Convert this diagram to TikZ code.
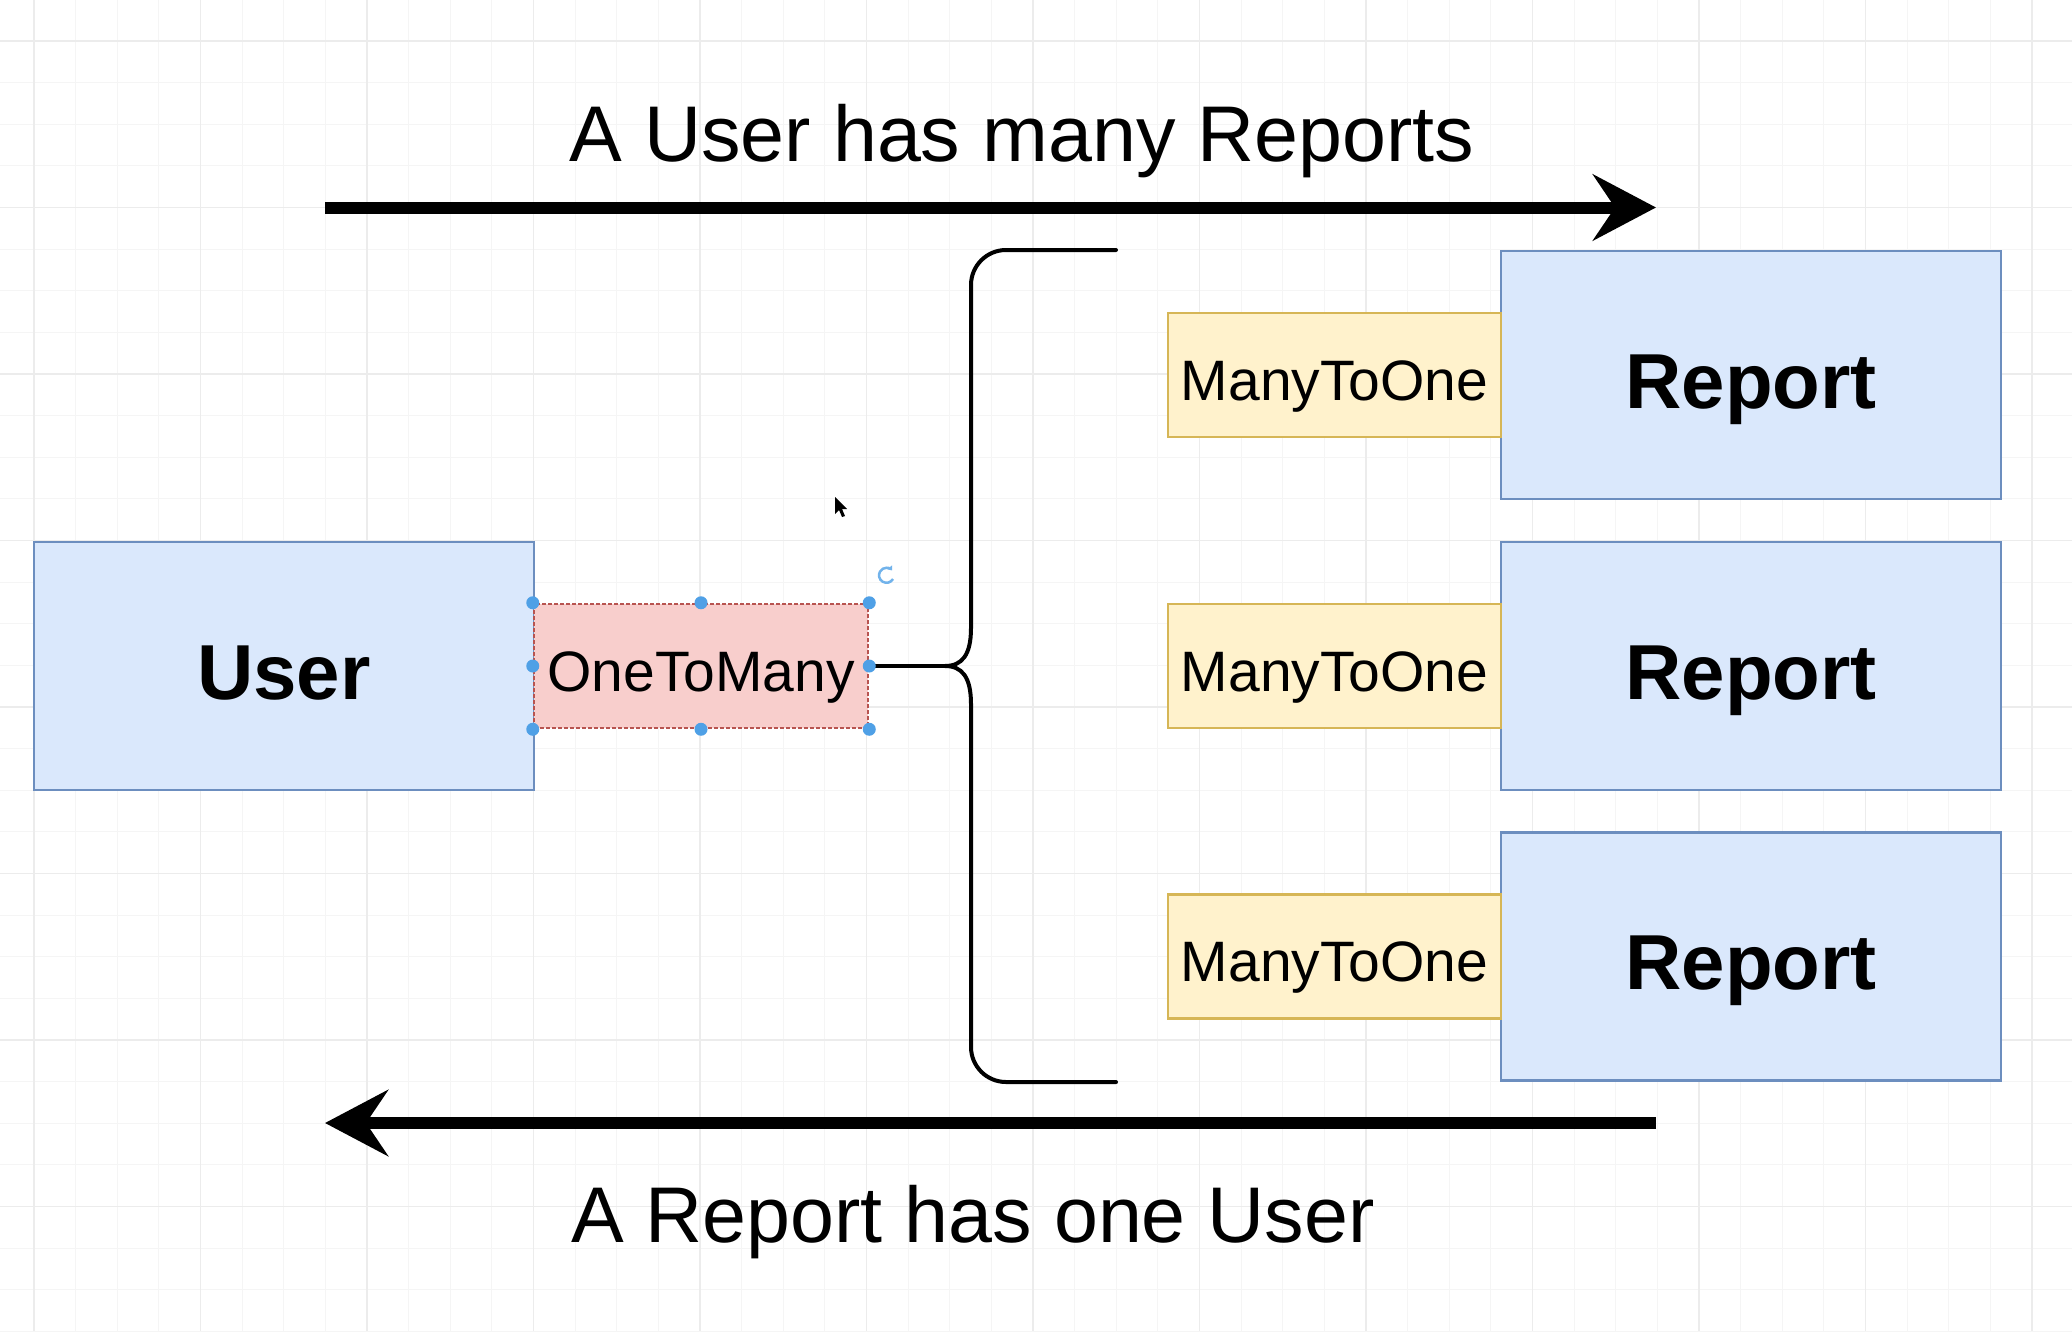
\documentclass[tikz,border=0pt]{standalone}
\usepackage{fontspec}
\setmainfont{Liberation Sans}
\usetikzlibrary{arrows.meta}

\definecolor{entityfill}{HTML}{DAE8FC}
\definecolor{entityline}{HTML}{6C8EBF}
\definecolor{relfill}{HTML}{FFF2CC}
\definecolor{relline}{HTML}{D6B656}
\definecolor{selfill}{HTML}{F8CECC}
\definecolor{selline}{HTML}{B85450}
\definecolor{handleblue}{HTML}{4FA0E6}
\definecolor{gridminor}{HTML}{F5F5F5}
\definecolor{gridmajor}{HTML}{ECECEC}

\tikzset{
  entity/.style={draw=entityline, fill=entityfill, line width=2.5pt,
    minimum width=500pt, minimum height=248pt, inner sep=0pt,
    font=\fontsize{78}{90}\selectfont\bfseries, text height=66pt, text depth=0pt},
  relbox/.style={draw=relline, fill=relfill, line width=2.5pt,
    minimum width=333pt, minimum height=124pt, inner sep=0pt,
    font=\fontsize{57}{66}\selectfont, text height=50pt, text depth=0pt},
  selbox/.style={draw=selline, fill=selfill, line width=2.5pt,
    dash pattern=on 4pt off 2pt,
    minimum width=334pt, minimum height=124pt, inner sep=0pt,
    font=\fontsize{57}{66}\selectfont, text height=50pt, text depth=0pt},
  caption/.style={inner sep=0pt, anchor=base, font=\fontsize{79}{90}\selectfont},
  bigarrow/.style={line width=12pt,
    -{Stealth[length=63pt, width=66pt, inset=22pt]}},
  bracket/.style={line width=4pt, line cap=round, line join=round},
  handle/.style={fill=handleblue},
}

\begin{document}
\begin{tikzpicture}[x=1pt, y=-1pt]
\useasboundingbox (0,0) rectangle (2072,1331);
\fill[white] (0,0) rectangle (2072,1331);

% background grid
\foreach \k in {-1,...,49}
  \draw[gridminor, line width=1pt] ({34+41.625*\k},0) -- ({34+41.625*\k},1331);
\foreach \k in {-1,...,31}
  \draw[gridminor, line width=1pt] (0,{41+41.625*\k}) -- (2072,{41+41.625*\k});
\foreach \k in {0,...,12}
  \draw[gridmajor, line width=1.5pt] ({34+166.5*\k},0) -- ({34+166.5*\k},1331);
\foreach \k in {0,...,7}
  \draw[gridmajor, line width=1.5pt] (0,{41+166.5*\k}) -- (2072,{41+166.5*\k});

% entities
\node[entity] (user) at (284,666) {User};
\node[entity] (rep1) at (1751,375) {Report};
\node[entity] (rep2) at (1751,666) {Report};
\node[entity] (rep3) at (1751,956.5) {Report};

% relation decorators
\node[relbox] (mto1) at (1334.5,375) {ManyToOne};
\node[relbox] (mto2) at (1334.5,666) {ManyToOne};
\node[relbox] (mto3) at (1334.5,956.5) {ManyToOne};
\node[selbox] (otm) at (701,666) {OneToMany};

% curly bracket grouping the reports
\coordinate (cusp) at (945,666);
\draw[bracket] (otm.east) -- (cusp);
\draw[bracket] (1116,250) -- (1006,250)
  .. controls (986.7,250) and (971,265.7) .. (971,285)
  -- (971,628)
  .. controls (971,655) and (962,666) .. (cusp)
  .. controls (962,666) and (971,677) .. (971,704)
  -- (971,1047)
  .. controls (971,1066.3) and (986.7,1082) .. (1006,1082)
  -- (1116,1082);

% selection handles
\foreach \a in {north west, north, north east, west, east, south west, south, south east}
  \fill[handle] (otm.\a) circle (6.5);
\draw[handleblue!80, line width=2.5pt, -{Triangle[length=4pt, width=6pt]}]
  (893,579) arc[start angle=30, end angle=320, radius=7.5];

% direction arrows
\coordinate (topstart) at (325,207.5);
\coordinate (topend) at (1656,207.5);
\coordinate (botstart) at (1656,1123);
\coordinate (botend) at (325,1123);
\draw[bigarrow] (topstart) -- (topend);
\draw[bigarrow] (botstart) -- (botend);

% captions
\node[caption] (captop) at (1022,161) {A User has many Reports};
\node[caption] (capbot) at (973,1242) {A Report has one User};

% mouse pointer
\fill[black] (835,497) -- (835,514) -- (839,510) -- (842,517) -- (845,516)
  -- (842,509) -- (847,509) -- cycle;
\end{tikzpicture}
\end{document}
